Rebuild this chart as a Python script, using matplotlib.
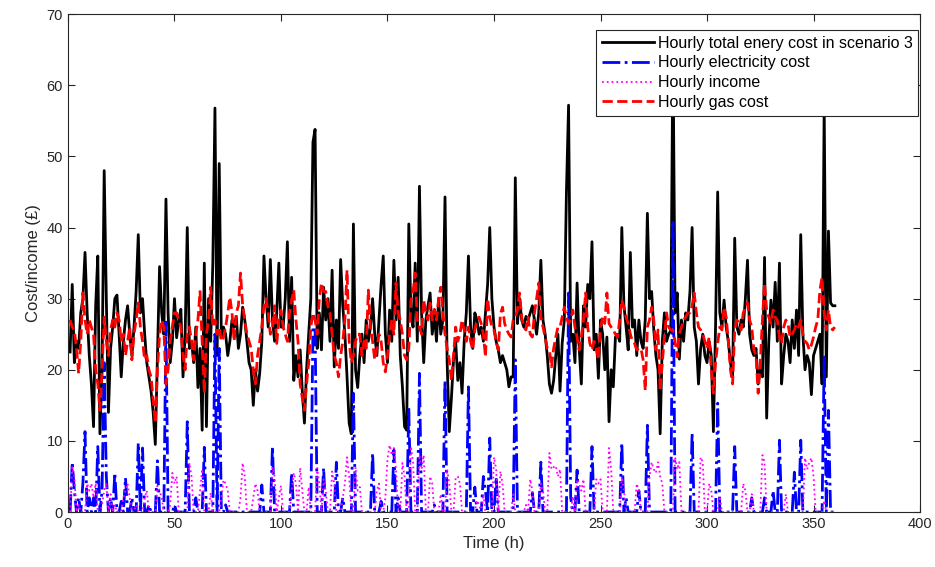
import matplotlib
matplotlib.use("Agg")
import matplotlib.pyplot as plt
import numpy as np

plt.rcParams["font.family"] = ["Liberation Sans", "DejaVu Sans"]

# hourly total energy cost in scenario 3 (black)
total_cost = [
    22.5, 32, 21, 24, 23, 28, 30, 36.5, 28, 22,
    18, 12, 29, 36, 11, 20, 48, 30, 14, 23,
    26, 30, 30.5, 25, 19, 24, 27, 29, 25, 22,
    26, 31, 39, 28, 30, 25, 21, 19, 17, 14,
    9.5, 22, 34.5, 28, 25, 44, 28, 21, 24, 30,
    24.5, 27, 28.5, 19, 25, 40, 23, 24, 21, 26,
    17.5, 23, 11.5, 35, 12, 30, 24, 35, 56.8, 22,
    49, 24.5, 26, 25, 22, 24, 27, 26, 27.5, 23,
    25, 28.8, 27, 24, 21, 20, 15, 20, 17, 19.5,
    24, 36, 30, 26, 35.5, 27, 24, 28, 35, 26,
    26, 30, 38, 24, 33, 18.5, 22, 19, 22.8, 17,
    12.5, 20, 25, 30, 52, 53.8, 23, 28, 22.8, 31.6,
    27, 30, 24, 34, 20.4, 27, 23, 35.5, 29, 25,
    19, 12.5, 11, 40.5, 20, 17.5, 22, 25, 21, 27,
    24, 26, 30, 25, 22, 27, 32, 36, 25, 21,
    28.4, 24, 35.4, 27, 33, 22, 17.6, 12, 11.5, 40.5,
    28, 26, 35, 24, 45.8, 28, 21, 27, 29, 30.8,
    25, 28, 24, 30, 25, 27, 44.3, 21, 11.3, 16,
    21.4, 24, 18.5, 21, 16.7, 24, 28, 36, 26, 23,
    28, 27, 25, 26, 24, 28, 32, 40, 30, 26,
    24, 22.8, 21, 22, 21, 20, 17.6, 19, 19, 47,
    26.5, 30, 27, 26, 27.5, 27, 28, 29, 27, 25,
    28, 35.4, 27, 25, 22, 18, 16.7, 18.5, 22, 25,
    17, 23.7, 27, 45, 57.2, 24, 25, 21, 32.2, 23,
    18, 29, 26, 32, 30, 38, 22.8, 25, 18.8, 27,
    25, 20, 24.6, 12.7, 20, 17.6, 24.6, 25, 24, 40,
    29, 26, 22.8, 36.5, 26, 27, 22, 27, 24, 23,
    27, 42, 30, 31, 25.6, 22, 20, 11, 24, 28,
    24, 25, 25.5, 66, 28, 30.8, 21.5, 27, 24, 28,
    27, 31, 40, 26, 24, 18, 23, 25, 22, 21,
    24, 22, 11.3, 26, 45, 28, 26, 29.8, 26, 24,
    21, 19, 38.5, 26, 25, 27, 26, 30, 35.4, 25,
    22.8, 22, 23, 18, 20, 19, 35.8, 13.2, 24, 29.8,
    26, 32.3, 24, 35, 18, 22, 25, 24, 21, 27,
    23, 28.4, 22, 39, 25, 20, 22, 21, 16.5, 22,
    23, 24, 25, 18, 57, 19, 39.5, 29.4, 29, 29,
]

# hourly electricity cost (blue)
elec_cost = [
    0, 7, 3, 0, 2, 0, 4, 11.3, 0, 2,
    0, 2, 0, 9.2, 0, 3, 21, 5, 0, 2,
    0, 5.5, 0, 0, 1.5, 0, 4.8, 0, 0, 2,
    0, 0, 9.7, 0, 9, 0, 0, 1, 0, 0,
    0, 7.2, 0, 0, 0, 26.7, 0, 0, 0, 1,
    0, 0, 0, 0, 0, 12.7, 0, 0, 0, 2,
    0, 0, 0, 9.1, 0, 0, 0, 0, 25, 0,
    23, 0, 0, 1, 0, 0, 0, 0, 0, 0,
    0, 0, 0, 0, 0, 0, 0, 0, 0, 0,
    3.8, 0, 0, 0, 0, 9.2, 0, 0, 0, 0,
    0, 0, 0, 0, 5.5, 0, 0, 0, 0, 0,
    0, 0, 0, 0, 25.9, 26, 0, 0, 0, 6.2,
    0, 0, 0, 0, 0, 7, 0, 0, 2, 0,
    0, 0, 0, 16.7, 0, 0, 0, 0, 0, 0,
    0, 0, 8.3, 0, 0, 0, 1.5, 0, 0, 0,
    0, 0, 8.7, 0, 2, 0, 0, 0, 0, 14.6,
    0, 0, 0, 0, 19.5, 0, 0, 0, 0, 0,
    0, 1, 0, 0, 0, 0, 18.5, 0, 0, 0,
    0, 0, 0, 0, 0, 0, 0, 17.6, 0, 0,
    3.5, 0, 0, 0, 5, 3, 0, 10.4, 0, 0,
    4.9, 0, 0, 0, 0, 0, 0, 0, 0, 21.4,
    0, 0, 0, 0, 0, 0, 0, 2.7, 0, 0,
    0, 7, 0, 0, 0, 0, 0, 0, 0, 0,
    0, 0, 0, 0, 30.8, 2, 0, 0, 5.9, 0,
    0, 0, 0, 0, 0, 9.2, 0, 0, 0, 0,
    0, 0, 0, 0, 0, 0, 0, 0, 0, 9.7,
    0, 2, 0, 0, 0, 0, 0, 3, 0, 0,
    0, 12.2, 0, 0, 0, 0, 0, 0, 0, 0,
    0, 0, 0, 41, 0, 0, 0, 0, 0, 0,
    0, 0, 11.1, 0, 0, 0, 0, 0, 0, 0,
    0, 0, 0, 0, 15.3, 0, 0, 0, 0, 0,
    0, 0, 9.2, 0, 0, 0, 0, 0, 0, 0,
    2, 0, 0, 0, 0, 0, 2, 0, 0, 0,
    3, 0, 0, 10.1, 0, 0, 0, 0, 0, 0,
    5.6, 0, 0, 10.1, 0, 0, 0, 0, 0, 0,
    0, 0, 0, 0, 21.8, 0, 14.3, 0, 0, 0,
]

# hourly income (magenta)
income = [
    0, 6.3, 5, 0, 1, 0, 0, 0, 4, 3,
    4, 2, 4, 0, 0, 1, 3, 4, 0, 2.5,
    0, 1, 0, 0, 0, 2, 3, 4, 2, 0,
    0, 1, 0, 0, 0, 2, 3, 0, 0, 0,
    0, 3.7, 3, 2, 0, 0, 0, 1, 5.5, 4,
    5, 0, 0, 0, 0, 0, 6.9, 5, 0, 0,
    0, 3, 6, 0, 0, 0, 2.7, 0, 0, 0,
    0, 2, 4.5, 4, 3, 0, 0, 0, 0, 0,
    2, 6.9, 5, 0, 0, 0, 2, 4, 3, 0,
    0, 0, 0, 0, 0, 6.3, 5, 0, 2, 3.7,
    0, 0, 0, 0, 3, 5.5, 4, 0, 6.2, 3,
    0, 0, 3.5, 0, 0, 0, 6.2, 4, 0, 4.6,
    3, 0, 0, 5.7, 4, 0, 0, 0, 2, 4,
    7.7, 5, 0, 0, 6.3, 3, 3.5, 0, 0, 0,
    0, 0, 0, 0, 3, 4, 0, 0, 2, 7.5,
    9.4, 8, 9, 6, 0, 0, 6.9, 5, 0, 0,
    9.2, 7, 0, 0, 8, 6, 8, 0, 0, 5,
    4, 0, 0, 0, 2.5, 0, 0, 6, 4, 0,
    0, 4.8, 5, 4, 0, 0, 0, 0, 0, 0,
    0, 1.6, 1, 0, 2.5, 0, 0, 0, 0, 7.7,
    6, 0, 5.7, 4, 0, 0, 0, 0, 2.5, 0,
    0, 0, 0, 0, 1, 0, 4.6, 3, 0, 0,
    0, 4, 3, 0, 0, 8.3, 6, 6.3, 6.5, 5,
    6, 0, 0, 0, 0, 0, 2.2, 0, 4.6, 4,
    3, 4.6, 0, 0, 0, 0, 0, 4.6, 4, 4.6,
    0, 0, 0, 9, 6, 0, 0, 0, 0, 5,
    3, 0, 0, 0, 0, 0, 4, 3, 0, 0,
    0, 0, 5, 7, 6, 5.5, 7, 5, 4, 0,
    0, 0, 0, 0, 7.7, 6, 7, 0, 0, 0,
    0, 0, 0, 0, 0, 0, 7.7, 7, 0, 0,
    4, 3, 0, 0, 0, 2.2, 0, 0, 0, 0,
    0, 0, 0, 0, 0, 0, 4, 3, 0, 0,
    2.5, 0, 0, 0, 0, 8, 7, 0, 0, 0,
    0, 0, 0, 0, 0, 0, 2.5, 0, 0, 0,
    0, 0, 0, 0, 0, 7.6, 6, 7, 7.6, 5,
    0, 0, 0, 0, 1.6, 0, 0, 0, 0, 0,
]

# hourly gas cost (red)
gas_cost = [
    27, 26, 25.5, 23, 19.5, 24, 30.8, 27, 25, 27,
    26, 25, 20, 18, 14.3, 20, 27.4, 24, 22, 25.6,
    27, 26, 28, 27, 24, 25, 22, 24, 26, 21.4,
    25, 27, 29.4, 26, 24, 21.4, 22, 20, 19, 15.7,
    12.5, 20, 25, 27, 26, 18, 20, 24, 26, 28,
    28, 27, 26, 22, 20, 25, 26, 24, 21.4, 25,
    27, 31, 24, 16.7, 25, 27, 31.6, 26, 27, 25,
    26, 24, 24.6, 26, 28, 30.2, 28, 24, 28, 29,
    33.6, 29, 27, 25, 24, 23, 20, 18, 22, 24,
    26, 29, 30, 28, 25, 26, 29, 23.7, 27, 28.4,
    26, 25, 24, 28, 29.8, 31.2, 27, 24, 18, 16,
    14.3, 18, 21, 26, 28, 27, 25, 30, 32.2, 31,
    31, 29, 28, 25, 22, 21, 19, 22, 24, 27,
    34, 24, 21, 22, 24, 25, 25, 22, 24, 23,
    31.2, 26, 24, 21.4, 23, 25, 24, 21, 19.7, 22,
    25, 27, 25, 32.2, 28, 27, 25, 22, 21.4, 23,
    29.8, 31, 33.6, 27, 26, 25, 29.8, 28, 27, 29.4,
    27, 28.5, 27, 30, 31.6, 28, 25, 23, 21.4, 18.5,
    22, 26, 24, 25, 27, 25.6, 24, 26, 24, 22.8,
    25.6, 27, 27.4, 26.5, 25, 21.8, 30, 27.4, 26, 25.6,
    24, 22.8, 27.8, 28.8, 26.5, 25.6, 25, 24.6, 27, 27.4,
    28.4, 30.8, 27.4, 26, 25.6, 27.4, 25, 24.6, 28, 30,
    32.2, 27.4, 26, 24.6, 23, 22.8, 20.4, 23, 24.6, 26,
    26, 27.4, 28.8, 27.4, 26.5, 27, 28.4, 26, 24.6, 22.8,
    24.6, 27, 30.8, 26, 23.7, 22.8, 24, 23, 21.4, 26,
    27.4, 26.5, 30.8, 26.5, 26, 25.6, 25, 24.6, 27, 29.8,
    28.8, 27.4, 26.5, 25, 24, 23.7, 22.8, 23, 23, 21.4,
    17.1, 26, 27, 28.8, 27, 22.8, 25.6, 17, 21, 24.6,
    28, 26, 25.6, 25.6, 24, 21.8, 25, 26, 27, 27.4,
    28, 28, 29, 30.8, 28, 26, 25.6, 25, 24, 23,
    24.6, 20, 16.7, 21, 23.7, 26, 25.6, 28.8, 27.4, 24,
    20, 18, 25.6, 27, 26.5, 25.6, 28, 28.8, 29.4, 27,
    26, 22.8, 22, 16.7, 21, 27, 32.2, 28.4, 27.4, 26.5,
    28.4, 27.4, 27, 24.6, 23.7, 26, 27, 26.5, 24.6, 25,
    25.6, 26.5, 26, 27, 25, 24, 23.7, 22.8, 23.5, 24.6,
    26, 27, 31.2, 33, 28, 25.6, 28.4, 26, 25.6, 26,
]

hours = np.arange(1, len(total_cost) + 1)

fig = plt.figure(figsize=(9.35, 5.67), dpi=100)
ax = fig.add_axes([0.0727, 0.097, 0.9113, 0.878])

ax.plot(hours, total_cost, "-", color="black", linewidth=2.0,
        label="Hourly total enery cost in scenario 3")
ax.plot(hours, elec_cost, "-.", color="blue", linewidth=2.0,
        label="Hourly electricity cost")
ax.plot(hours, income, ":", color="magenta", linewidth=1.3,
        label="Hourly income")
ax.plot(hours, gas_cost, "--", color="red", linewidth=2.0,
        label="Hourly gas cost")

ax.set_xlim(0, 400)
ax.set_ylim(0, 70)
ax.set_xticks(np.arange(0, 401, 50))
ax.set_yticks(np.arange(0, 71, 10))
ax.tick_params(direction="in", top=True, right=True, labelsize=10.5,
               length=5, width=0.8, colors="#262626")
for sp in ax.spines.values():
    sp.set_linewidth(0.8)
    sp.set_color("#262626")

ax.set_xlabel("Time (h)", fontsize=12, color="#262626")
ax.set_ylabel("Cost/income (£)", fontsize=12, color="#262626")

leg = ax.legend(loc="upper right", bbox_to_anchor=(0.998, 0.968),
                fontsize=11.5, handlelength=3.25, frameon=True, fancybox=False,
                edgecolor="#262626", framealpha=1, borderpad=0.35,
                labelspacing=0.3, handletextpad=0.25, borderaxespad=0)
leg.get_frame().set_linewidth(0.8)

fig.savefig("out.png", dpi=100)
